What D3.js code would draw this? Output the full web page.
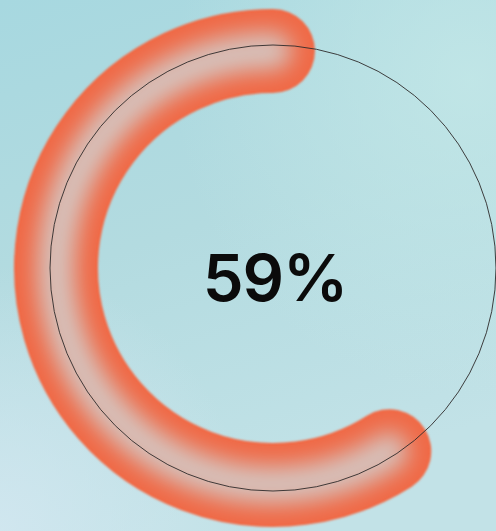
<!DOCTYPE html>
<html>
<head>
<meta charset="utf-8">
<script src="https://cdn.jsdelivr.net/npm/d3@7"></script>
<style>
  html, body { margin: 0; padding: 0; overflow: hidden; }
  svg { display: block; }
</style>
</head>
<body>
<div id="chart"></div>
<script>
// gauge value (percent) and its label
const value = [59];
const labels = ["59%"];
const domainMax = [100];

const width = 496;
const height = 531;
const cx = 273;
const cy = 268;
const ringR = 223;   // thin reference circle
const bandR = 217;   // centre line of the thick band
const bandW = 84;

const svg = d3.select('#chart')
    .append('svg')
    .attr('width', width)
    .attr('height', height);

const defs = svg.append('defs');

// background gradients
const bg1 = defs.append('linearGradient')
    .attr('id', 'bg1')
    .attr('x1', 0).attr('y1', 0).attr('x2', 0.3).attr('y2', 1);
bg1.append('stop').attr('offset', '0%').attr('stop-color', '#a7d8e0');
bg1.append('stop').attr('offset', '50%').attr('stop-color', '#b3dbe0');
bg1.append('stop').attr('offset', '100%').attr('stop-color', '#c2e2e7');

const bg2 = defs.append('radialGradient')
    .attr('id', 'bg2')
    .attr('cx', 0.95).attr('cy', 0.15).attr('r', 0.6);
bg2.append('stop').attr('offset', '0%').attr('stop-color', '#c4e8e8').attr('stop-opacity', 0.8);
bg2.append('stop').attr('offset', '100%').attr('stop-color', '#c4e8e8').attr('stop-opacity', 0);

const bg3 = defs.append('radialGradient')
    .attr('id', 'bg3')
    .attr('cx', 0.0).attr('cy', 1.0).attr('r', 0.5);
bg3.append('stop').attr('offset', '0%').attr('stop-color', '#d2e7f0').attr('stop-opacity', 0.9);
bg3.append('stop').attr('offset', '100%').attr('stop-color', '#d2e7f0').attr('stop-opacity', 0);

svg.append('rect').attr('width', width).attr('height', height).attr('fill', 'url(#bg1)');
svg.append('rect').attr('width', width).attr('height', height).attr('fill', 'url(#bg2)');
svg.append('rect').attr('width', width).attr('height', height).attr('fill', 'url(#bg3)');

// filters (regions cover the whole canvas so strokes are not cut)
function addFilter(id, sd) {
    defs.append('filter').attr('id', id)
        .attr('filterUnits', 'userSpaceOnUse')
        .attr('x', -cx).attr('y', -cy).attr('width', width * 2).attr('height', height * 2)
        .append('feGaussianBlur').attr('stdDeviation', sd);
}
addFilter('soft', 1.2);
addFilter('glow', 11);

// angle scale: fills counter-clockwise from the top
const angle = d3.scaleLinear()
    .domain([0, domainMax[0]])
    .range([0, -2 * Math.PI]);

// open arc path (so round line caps apply)
function arcPath(v) {
    const p = d3.path();
    const a0 = angle(0) - Math.PI / 2;
    const a1 = angle(v) - Math.PI / 2;
    p.moveTo(bandR * Math.cos(a0), bandR * Math.sin(a0));
    p.arc(0, 0, bandR, a0, a1, true);
    return p.toString();
}

const g = svg.append('g').attr('transform', `translate(${cx},${cy})`);

// mask so the soft inner light stays within the band
const mask = defs.append('mask').attr('id', 'bandMask')
    .attr('maskUnits', 'userSpaceOnUse')
    .attr('x', 0).attr('y', 0).attr('width', width).attr('height', height);
mask.append('path')
    .datum(value[0])
    .attr('transform', `translate(${cx},${cy})`)
    .attr('d', arcPath)
    .attr('fill', 'none')
    .attr('stroke', '#fff')
    .attr('stroke-width', bandW - 6)
    .attr('stroke-linecap', 'round');

g.append('path')
    .datum(value[0])
    .attr('d', arcPath)
    .attr('fill', 'none')
    .attr('stroke', '#f06a47')
    .attr('stroke-width', bandW)
    .attr('stroke-linecap', 'round')
    .attr('filter', 'url(#soft)');

svg.append('g')
    .attr('mask', 'url(#bandMask)')
    .append('path')
    .datum(value[0])
    .attr('transform', `translate(${cx},${cy})`)
    .attr('d', arcPath)
    .attr('fill', 'none')
    .attr('stroke', '#d6c0b9')
    .attr('stroke-width', 38)
    .attr('stroke-linecap', 'round')
    .attr('filter', 'url(#glow)');

const overlay = svg.append('g').attr('transform', `translate(${cx},${cy})`);

// thin full circle on top of the band
overlay.append('circle')
    .attr('r', ringR)
    .attr('fill', 'none')
    .attr('stroke', '#2e2a2a')
    .attr('stroke-width', 0.9);

// centre label
overlay.append('text')
    .attr('x', 2)
    .attr('y', 33)
    .attr('text-anchor', 'middle')
    .attr('font-family', 'Inter, sans-serif')
    .attr('font-weight', 600)
    .attr('font-size', 65)
    .attr('letter-spacing', -1)
    .attr('fill', '#0b0b0b')
    .text(labels[0]);
</script>
</body>
</html>
